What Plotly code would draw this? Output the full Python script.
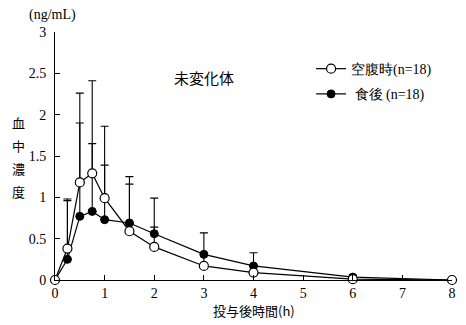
import plotly.graph_objects as go

# Sampling times (h)
times = [0, 0.25, 0.5, 0.75, 1, 1.5, 2, 3, 4, 6, 8]

# Mean plasma concentration (ng/mL)
fasted_mean = [0, 0.38, 1.18, 1.29, 0.99, 0.59, 0.40, 0.17, 0.09, 0.01, 0]
fed_mean = [0, 0.25, 0.77, 0.83, 0.73, 0.69, 0.56, 0.31, 0.17, 0.035, 0]

# Standard deviation (upper bars only)
fasted_sd = [0, 0.60, 1.08, 1.12, 0.87, 0.66, 0.24, 0.13, 0, 0, 0]
fed_sd = [0, 0.71, 1.13, 0.82, 0.66, 0.47, 0.43, 0.26, 0.16, 0.025, 0]

fasted_name = "空腹時(n=18)"
fed_name = " 食後 (n=18)"

x_ticks = [0, 1, 2, 3, 4, 5, 6, 7, 8]
y_ticks = [0, 0.5, 1, 1.5, 2, 2.5, 3]
y_tick_text = ["0", "0.5", "1", "1.5", "2", "2.5", "3"]

FONT = "Liberation Serif"
CJK = "Noto Sans CJK JP"

fig = go.Figure()

fig.add_trace(go.Scatter(
    x=times, y=fed_mean, name=fed_name, mode="lines+markers",
    line=dict(color="black", width=1.2),
    marker=dict(symbol="circle", size=8, color="black",
                line=dict(color="black", width=1)),
    error_y=dict(type="data", array=fed_sd, arrayminus=[0] * len(fed_sd),
                 symmetric=False, color="black", thickness=1.1, width=4),
    cliponaxis=False, legendrank=2, legendgroup="fed",
))

fig.add_trace(go.Scatter(
    x=times, y=fasted_mean, name=fasted_name, mode="lines+markers",
    line=dict(color="black", width=1.2),
    marker=dict(symbol="circle", size=9, color="white",
                line=dict(color="black", width=1.2)),
    error_y=dict(type="data", array=fasted_sd, arrayminus=[0] * len(fasted_sd),
                 symmetric=False, color="black", thickness=1.1, width=4),
    cliponaxis=False, legendrank=1, legendgroup="fasted",
))

fig.update_layout(
    width=466, height=325,
    margin=dict(l=55, r=10, t=32, b=45),
    paper_bgcolor="white", plot_bgcolor="white",
    font=dict(family=FONT, size=14, color="black"),
    showlegend=True,
    legend=dict(x=0.645, y=0.915, xanchor="left", yanchor="top",
                bgcolor="rgba(0,0,0,0)", font=dict(family=FONT, size=14),
                traceorder="grouped", tracegroupgap=4, itemwidth=30),
    xaxis=dict(range=[0, 8], tickvals=x_ticks, ticks="inside", ticklen=5,
               tickcolor="black", showline=True, linecolor="black",
               linewidth=1, showgrid=False, zeroline=False,
               tickfont=dict(family=FONT, size=14)),
    yaxis=dict(range=[0, 3], tickvals=y_ticks, ticktext=y_tick_text,
               ticks="inside", ticklen=5, tickcolor="black", showline=True,
               linecolor="black", linewidth=1, showgrid=False,
               zeroline=False, ticklabelstandoff=5,
               tickfont=dict(family=FONT, size=14)),
)

# Unit label, panel title and axis titles
fig.add_annotation(text="(ng/mL)", xref="paper", yref="paper", x=0,
                   xshift=-28, y=1.0, yshift=17, xanchor="left",
                   yanchor="middle", showarrow=False,
                   font=dict(family=FONT, size=14))
fig.add_annotation(text="未変化体", xref="x", yref="y", x=3.0, y=2.45,
                   xanchor="center", yanchor="middle", showarrow=False,
                   font=dict(family=CJK, size=15))
fig.add_annotation(text="投与後時間(h)", xref="x", yref="paper", x=4.0, y=0,
                   yshift=-30, xanchor="center", yanchor="middle",
                   showarrow=False, font=dict(family=CJK, size=13))
for i, ch in enumerate("血中濃度"):
    fig.add_annotation(text=ch, xref="paper", yref="paper", x=0, xshift=-37,
                       y=1.0, yshift=-(122 + 23 * i - 32), xanchor="center",
                       yanchor="middle", showarrow=False,
                       font=dict(family=CJK, size=13))

fig.write_html("out.html")
